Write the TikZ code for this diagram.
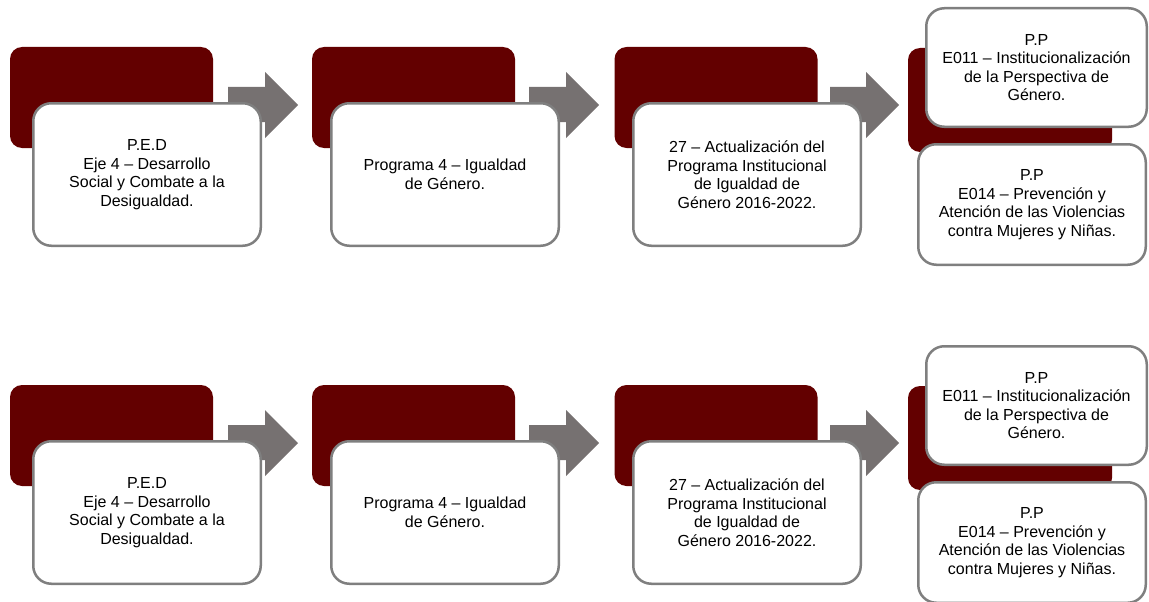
\documentclass[tikz,border=0pt]{standalone}
\usepackage{fontspec}
\setmainfont{Liberation Sans}
\definecolor{vino}{RGB}{99,0,0}
\definecolor{gris}{RGB}{118,113,113}
\definecolor{borde}{RGB}{127,127,127}
\begin{document}
\begin{tikzpicture}[x=1pt, y=-1pt,
		fondo/.style={fill=vino, rounded corners=12pt, inner sep=0pt, minimum width=203pt, minimum height=101pt},
		caja/.style={fill=white, draw=borde, line width=2.5pt, rounded corners=18pt, inner sep=0pt,
			minimum width=227.5pt, minimum height=142.5pt, align=center, font=\fontsize{16}{18.5}\selectfont},
		flecha/.style={fill=gris}]
		\useasboundingbox ( 0, 0 ) rectangle ( 1149, 602 );

		\foreach \f/\dy in {a/0, b/338} {
		\begin{scope}[yshift=-\dy pt]
		% flechas
		\fill [flecha] ( 228, 87 ) -- ( 265, 87 ) -- ( 265, 72 ) -- ( 298, 105 ) -- ( 265, 138 ) -- ( 265, 122 ) -- ( 228, 122 ) -- cycle;
		\fill [flecha] ( 529, 87 ) -- ( 566, 87 ) -- ( 566, 72 ) -- ( 599, 105 ) -- ( 566, 138 ) -- ( 566, 122 ) -- ( 529, 122 ) -- cycle;
		\fill [flecha] ( 830, 87 ) -- ( 866, 87 ) -- ( 866, 72 ) -- ( 899, 105 ) -- ( 866, 138 ) -- ( 866, 122 ) -- ( 830, 122 ) -- cycle;

		% P.E.D
		\node [fondo] (fped-\f) at ( 111.5, 97.5 ) {};
		\node [caja] (ped-\f) at ( 147, 174.5 ) {P.E.D\\Eje 4 – Desarrollo\\Social y Combate a la\\Desigualdad.};

		% programa
		\node [fondo] (fprog-\f) at ( 413.5, 97.5 ) {};
		\node [caja] (prog-\f) at ( 445, 174.5 ) {Programa 4 – Igualdad\\de Género.};

		% actualizacion
		\node [fondo] (fact-\f) at ( 716, 97.5 ) {};
		\node [caja] (act-\f) at ( 747, 174.5 ) {27 – Actualización del\\Programa Institucional\\de Igualdad de\\Género 2016-2022.};

		% P.P
		\node [fondo, minimum width=204pt, minimum height=104pt] (fpp-\f) at ( 1010, 100 ) {};
		\node [caja, minimum width=220.5pt, minimum height=118.5pt] (ppa-\f) at ( 1036.5, 67.5 ) {P.P\\E011 – Institucionalización\\de la Perspectiva de\\Género.};
		\node [caja, minimum width=227.5pt, minimum height=120.5pt] (ppb-\f) at ( 1032, 204.5 ) {P.P\\E014 – Prevención y\\Atención de las Violencias\\contra Mujeres y Niñas.};
		\end{scope}
		}
	\end{tikzpicture}
\end{document}
